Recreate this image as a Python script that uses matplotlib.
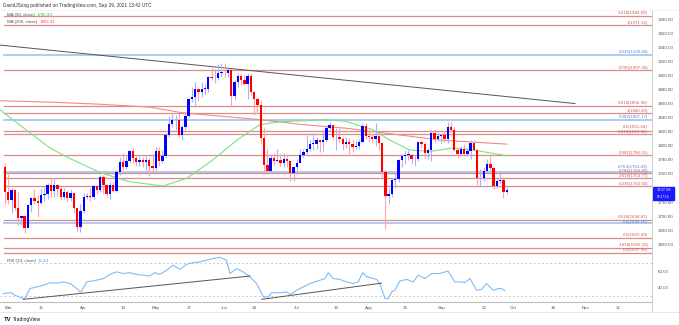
import numpy as np
import matplotlib.pyplot as plt

plt.rcParams['font.family'] = ['Liberation Sans', 'DejaVu Sans']

# daily XAU/USD bars, Feb 26 2021 .. Sep 29 2021 (bar index 0 = Feb 26)
opens = [1770, 1734, 1723, 1737, 1712, 1697, 1700, 1683, 1716, 1726, 1722,
         1719, 1730, 1731, 1745, 1736, 1745, 1739, 1728, 1734, 1726, 1733, 1712, 1685,
         1707, 1728, 1729, 1728, 1743, 1737, 1756, 1744, 1732, 1745, 1736, 1763,
         1777, 1770, 1779, 1793, 1783, 1777, 1780, 1777, 1780, 1771,
         1768, 1792, 1779, 1785, 1815, 1831, 1836, 1837, 1815, 1826, 1843, 1867,
         1869, 1881, 1877, 1881, 1881, 1898, 1896, 1896, 1904,
         1904, 1903, 1908, 1871, 1891, 1899, 1893, 1888, 1899, 1877, 1866, 1858,
         1811, 1773, 1764, 1783, 1778, 1780, 1776, 1781, 1778, 1761,
         1770, 1776, 1787, 1791, 1796, 1803, 1803, 1808, 1805, 1808, 1825, 1829,
         1812, 1812, 1810, 1803, 1806, 1802, 1798, 1800, 1806, 1828,
         1814, 1812, 1810, 1814, 1804, 1763, 1729, 1731, 1752, 1753, 1780, 1786,
         1787, 1787, 1781, 1781, 1805, 1803, 1790, 1794, 1818, 1810,
         1814, 1815, 1810, 1827, 1823, 1794, 1789, 1795, 1788, 1793, 1804, 1794,
         1754, 1754, 1764, 1774, 1768, 1743, 1750, 1751, 1734]
highs = [1775, 1760, 1740, 1739, 1734, 1702, 1700, 1718, 1727, 1739, 1730,
         1740, 1741, 1747, 1755, 1755, 1746, 1741, 1740, 1737, 1738, 1733, 1713, 1717,
         1733, 1733, 1740, 1745, 1745, 1759, 1758, 1746, 1748, 1749, 1766, 1784,
         1790, 1785, 1794, 1797, 1789, 1786, 1784, 1785, 1782, 1789,
         1798, 1798, 1794, 1818, 1843, 1845, 1844, 1846, 1829, 1845, 1868, 1884,
         1890, 1882, 1890, 1888, 1899, 1913, 1909, 1916, 1917,
         1917, 1910, 1909, 1894, 1903, 1903, 1900, 1903, 1903, 1878, 1868, 1865,
         1826, 1795, 1788, 1790, 1795, 1788, 1790, 1786, 1779, 1771,
         1781, 1795, 1795, 1815, 1808, 1818, 1812, 1809, 1822, 1829, 1834, 1830,
         1825, 1826, 1813, 1812, 1811, 1810, 1808, 1809, 1832, 1832,
         1821, 1818, 1832, 1815, 1806, 1765, 1740, 1754, 1761, 1781, 1789, 1794,
         1794, 1789, 1786, 1806, 1808, 1805, 1797, 1823, 1824, 1820,
         1817, 1822, 1834, 1834, 1827, 1799, 1800, 1803, 1797, 1808, 1808, 1796,
         1767, 1770, 1781, 1788, 1770, 1753, 1762, 1755, 1742]
lows = [1717, 1717, 1705, 1709, 1687, 1687, 1676, 1683, 1706, 1718, 1699,
        1718, 1722, 1725, 1728, 1727, 1729, 1723, 1724, 1720, 1722, 1705, 1677, 1678,
        1705, 1725, 1721, 1725, 1731, 1735, 1731, 1727, 1724, 1735, 1735, 1759,
        1765, 1767, 1775, 1776, 1772, 1772, 1770, 1763, 1757, 1763,
        1766, 1771, 1776, 1782, 1812, 1826, 1822, 1813, 1808, 1823, 1841, 1862,
        1855, 1864, 1870, 1873, 1876, 1893, 1889, 1894, 1898,
        1898, 1897, 1856, 1865, 1883, 1887, 1886, 1867, 1872, 1844, 1846, 1802,
        1763, 1761, 1761, 1773, 1777, 1772, 1770, 1770, 1750, 1750,
        1763, 1775, 1784, 1789, 1793, 1794, 1795, 1791, 1792, 1806, 1823, 1810,
        1794, 1806, 1794, 1797, 1789, 1791, 1795, 1796, 1806, 1810,
        1805, 1805, 1800, 1794, 1753, 1682, 1717, 1727, 1740, 1749, 1770, 1774,
        1780, 1774, 1772, 1779, 1797, 1783, 1781, 1779, 1806, 1808,
        1804, 1806, 1804, 1819, 1793, 1782, 1785, 1788, 1785, 1781, 1792, 1745,
        1742, 1750, 1763, 1764, 1738, 1740, 1746, 1726, 1732]
closes = [1734, 1723, 1737, 1712, 1697, 1700, 1683, 1716, 1726, 1722, 1719,
          1730, 1731, 1745, 1736, 1745, 1739, 1728, 1734, 1726, 1733, 1712, 1685, 1707,
          1728, 1729, 1728, 1743, 1737, 1756, 1744, 1732, 1745, 1736, 1763, 1777,
          1770, 1779, 1793, 1783, 1777, 1780, 1777, 1780, 1771, 1768,
          1792, 1779, 1785, 1815, 1831, 1836, 1837, 1815, 1826, 1843, 1867, 1869,
          1881, 1877, 1881, 1881, 1898, 1896, 1896, 1904, 1904,
          1903, 1908, 1871, 1891, 1899, 1893, 1888, 1899, 1877, 1866, 1858, 1811,
          1773, 1764, 1783, 1778, 1780, 1776, 1781, 1778, 1761, 1770,
          1776, 1787, 1791, 1796, 1803, 1803, 1808, 1805, 1808, 1825, 1829, 1812,
          1812, 1810, 1803, 1806, 1802, 1798, 1800, 1806, 1828, 1814,
          1812, 1810, 1814, 1804, 1763, 1729, 1731, 1752, 1753, 1780, 1786, 1787,
          1787, 1781, 1781, 1805, 1803, 1790, 1794, 1818, 1810, 1814,
          1815, 1810, 1827, 1823, 1794, 1789, 1795, 1788, 1793, 1804, 1794, 1754,
          1754, 1764, 1774, 1768, 1743, 1750, 1751, 1734, 1737.59]

# moving averages (bar index, value)
ma50_bars = [-1.5, 2.4, 13.7, 18.9, 29, 38, 48.2, 55.5, 63.4, 70.7, 77.7, 83.8, 97,
             103.7, 112.2, 117.4, 123.5, 129.6, 136.6, 142.7, 153]
ma50_vals = [1851, 1837, 1797, 1784, 1762, 1749, 1743, 1754, 1780, 1808, 1830, 1834,
             1837, 1835, 1823, 1808, 1794, 1792, 1797, 1794, 1786]
ma200_bars = [-1.5, 14, 29, 44, 54, 78, 91, 104, 116, 133, 153]
ma200_vals = [1864, 1862, 1859, 1855, 1847, 1837, 1830, 1825, 1818, 1808, 1802.4]

# descending trendline
trend_bars = [-1.5, 173.8]
trend_vals = [1943, 1860]

# fibonacci levels: label, price, colour group
fib_labels = ['2.618', '1', '0.236', '0.786', '0.618', '1', '0.382', '0.5', '0.618',
              '0.382', '0.764', '0.786', '2.618', '0.236', '0.618', '0.5', '0.5',
              '1.618', '0.5']
fib_prices = [1984.89, 1971.32, 1928.84, 1907.26, 1856.96, 1846.49, 1837.17, 1821.64,
              1816.82, 1786.31, 1763.49, 1760.85, 1753.77, 1742.60, 1694.81, 1690.50,
              1669.49, 1655.29, 1647.96]
fib_blue = [False, False, True, False, False, False, True, False, False,
            False, True, False, False, False, False, True, False, False, False]

# RSI(14)
rsi_bars = [-0.5, 2, 3, 5.6, 6.4, 7.6, 9.7, 11.7, 13.7, 15.8, 17.8, 19.9, 21.9, 22.9,
            23.4, 24.9, 26.4, 27.9, 30, 32, 34, 36, 38, 40, 42.1, 44.1, 45.6, 47.2, 49.3,
            51.3, 53.3, 55.3, 57.4, 59.4, 61.4, 63.5, 65.5, 67.5, 68.6, 70.6, 72.6, 74.7,
            76.7, 78.8, 80.3, 81.3, 83.8, 85.9, 86.9, 89.9, 93, 96, 97.6, 98.6, 100.1,
            102.1, 104.1, 106.2, 107.7, 109.1, 110.3, 113.3, 114.3, 115.9, 116.9, 117.9,
            118.9, 120.4, 122.4, 124.5, 126, 128.1, 130.1, 132.6, 135.1, 137.2, 139.2,
            140.2, 141.8, 143.8, 145.3, 146.8, 148.9, 150.4, 151.4, 152.4]
rsi_vals = [33, 34, 31, 27, 29, 39, 41, 43, 46, 45.5, 47, 45, 39, 35,
            36, 47, 48, 49, 51, 56, 59, 57, 58, 56, 55, 54, 58, 56, 61,
            67, 62, 68, 70, 71, 73, 75, 76.5, 73, 57, 63, 59, 53,
            45, 29, 29, 34, 34, 35, 32, 39, 45, 49, 51, 58, 51,
            50, 47, 45, 47, 58, 53, 50, 45, 27, 27, 35,
            37, 48, 50, 47, 55, 51, 57, 57, 60, 47, 47,
            46, 51, 37, 38, 45, 37, 39, 39, 36.4]
rsi_trend1_bars = [5.6, 74.7]
rsi_trend1_vals = [26.1, 54]
rsi_trend2_bars = [78.3, 114.8]
rsi_trend2_vals = [26.1, 45.5]

tick_bars = [1, 11, 24, 36, 46, 56, 67, 76, 89, 101, 111, 122, 133, 146, 155, 167, 177, 187]
tick_labels = ['Mar', '15', 'Apr', '19', 'May', '17', 'Jun', '14', 'Jul', '19', 'Aug',
               '16', 'Sep', '20', 'Oct', '18', 'Nov', '15']
# 1740 is hidden behind the last-price tag
price_ticks = [1660, 1680, 1700, 1720, 1760, 1780, 1800, 1820, 1840, 1860, 1880,
               1900, 1920, 1940, 1960, 1980]

W, H = 679, 325
fig = plt.figure(figsize=(W / 100, H / 100), dpi=100)
fig.patch.set_facecolor('white')

def fy(py):
    return 1 - py / H

ax = fig.add_axes([0, fy(255), 652 / W, (255 - 10) / H])
ax_rsi = fig.add_axes([0, fy(302), 652 / W, (302 - 255) / H], sharex=ax)

x = np.arange(len(closes))
o = np.array(opens, dtype=float)
c = np.array(closes, dtype=float)
h = np.array(highs, dtype=float)
l = np.array(lows, dtype=float)
up = c >= o

xmin, xmax = -1.52, 197.3
ax.set_xlim(xmin, xmax)
ax.set_ylim(1645.0, 1992.8)

# label nudges for the tightly stacked levels (price units)
nudge = {1821.64: 1.8, 1816.82: -0.6, 1763.49: 3.2, 1694.81: 1.8, 1690.50: -0.8}

# fib lines
for lab, p, blue in zip(fib_labels, fib_prices, fib_blue):
    lc = '#a9c6f0' if blue else '#d98c8c'
    tc = '#4f86d9' if blue else '#c95c5c'
    ax.plot([-0.3, xmax], [p, p], color=lc, lw=1.3 if blue else 0.9, zorder=1)
    dy = nudge.get(p, 0.8)
    ax.text(xmax - 1.2, p + dy, f'{lab}({p:.2f})', color=tc, fontsize=3.2,
            ha='right', va='bottom', zorder=5)

ax.plot(trend_bars, trend_vals, color='#555555', lw=0.7, zorder=2)
ax.plot(ma200_bars, ma200_vals, color='#f28b82', lw=0.8, zorder=2)
ax.plot(ma50_bars, ma50_vals, color='#7ee27e', lw=0.8, zorder=2)

# candles
ax.vlines(x[up], l[up], h[up], color='#aab2ff', lw=0.8, zorder=3)
ax.vlines(x[~up], l[~up], h[~up], color='#ffa3a3', lw=0.8, zorder=3)
body_lo = np.minimum(o, c)
body_h = np.maximum(np.abs(c - o), 0.8)
ax.bar(x[up], body_h[up], bottom=body_lo[up], width=0.72, color='#0000ff', zorder=4)
ax.bar(x[~up], body_h[~up], bottom=body_lo[~up], width=0.72, color='#ff0000', zorder=4)

ax.yaxis.tick_right()
ax.set_yticks(price_ticks)
ax.set_yticklabels([f'{v:.2f}' for v in price_ticks])
ax.tick_params(axis='y', length=0, pad=4, labelsize=3.2, labelcolor='#555555')
ax.tick_params(axis='x', length=0, labelbottom=False)
for s in ax.spines.values():
    s.set_visible(False)
ax.spines['right'].set_visible(True)
ax.spines['right'].set_color('#cfcfcf')
ax.spines['bottom'].set_visible(True)
ax.spines['bottom'].set_color('#bdbdbd')

# RSI pane
ax_rsi.set_ylim(22.9, 79.2)
ax_rsi.axhline(70, color='#bbbbbb', lw=0.6, ls=(0, (2, 3)))
ax_rsi.axhline(30, color='#bbbbbb', lw=0.6, ls=(0, (2, 3)))
ax_rsi.plot(rsi_bars, rsi_vals, color='#7dbdf7', lw=0.8)
ax_rsi.plot(rsi_trend1_bars, rsi_trend1_vals, color='#555555', lw=0.7)
ax_rsi.plot(rsi_trend2_bars, rsi_trend2_vals, color='#555555', lw=0.7)
ax_rsi.yaxis.tick_right()
ax_rsi.set_yticks([40, 60])
ax_rsi.set_yticklabels(['40.00', '60.00'])
ax_rsi.tick_params(axis='y', length=0, pad=4, labelsize=3.2, labelcolor='#555555')
ax_rsi.set_xticks(tick_bars)
ax_rsi.set_xticklabels(tick_labels)
ax_rsi.tick_params(axis='x', length=0, pad=3, labelsize=3.2, labelcolor='#555555')
for s in ax_rsi.spines.values():
    s.set_visible(False)
ax_rsi.spines['right'].set_visible(True)
ax_rsi.spines['right'].set_color('#cfcfcf')
ax_rsi.spines['bottom'].set_visible(True)
ax_rsi.spines['bottom'].set_color('#bdbdbd')

# frame lines of the widget
fig.add_artist(plt.Line2D([652 / W, 652 / W], [fy(312), fy(10)], color='#cfcfcf', lw=0.7))
fig.add_artist(plt.Line2D([0, 1], [fy(312), fy(312)], color='#e3e3e3', lw=0.6))
fig.add_artist(plt.Line2D([0, 1], [fy(10), fy(10)], color='#eeeeee', lw=0.5))

# last price tag
fig.patches.append(plt.Rectangle((653 / W, fy(200)), 21 / W, 13 / H, color='#1a1aff',
                                 transform=fig.transFigure, figure=fig))
fig.text(663.5 / W, fy(190.3), '1737.59', color='white', fontsize=2.9, ha='center', va='center')
fig.text(663.5 / W, fy(196.6), '08:17:19', color='white', fontsize=2.3, ha='center', va='center')

# header and legends
fig.text(3 / W, fy(5.5), 'DavidJSong published on TradingView.com, Sep 29, 2021 13:42 UTC',
         fontsize=3.4, color='#333333', va='center')
fig.text(7 / W, fy(15), 'MA (50, close)', fontsize=3.2, color='#555555', va='center')
fig.text(37 / W, fy(15), '1785.93', fontsize=3.2, color='#33cc33', va='center')
fig.text(7 / W, fy(22), 'MA (200, close)', fontsize=3.2, color='#555555', va='center')
fig.text(40 / W, fy(22), '1802.41', fontsize=3.2, color='#ff4444', va='center')
fig.text(7 / W, fy(261), 'RSI (14, close)', fontsize=3.2, color='#555555', va='center')
fig.text(38 / W, fy(261), '36.44', fontsize=3.2, color='#4a9ff5', va='center')

fig.text(4 / W, fy(319.5), 'TV', fontsize=4.2, color='#131722', weight='bold', va='center')
fig.text(13 / W, fy(319.5), 'TradingView', fontsize=3.6, color='#131722', va='center')

fig.savefig('out.png', dpi=100)
